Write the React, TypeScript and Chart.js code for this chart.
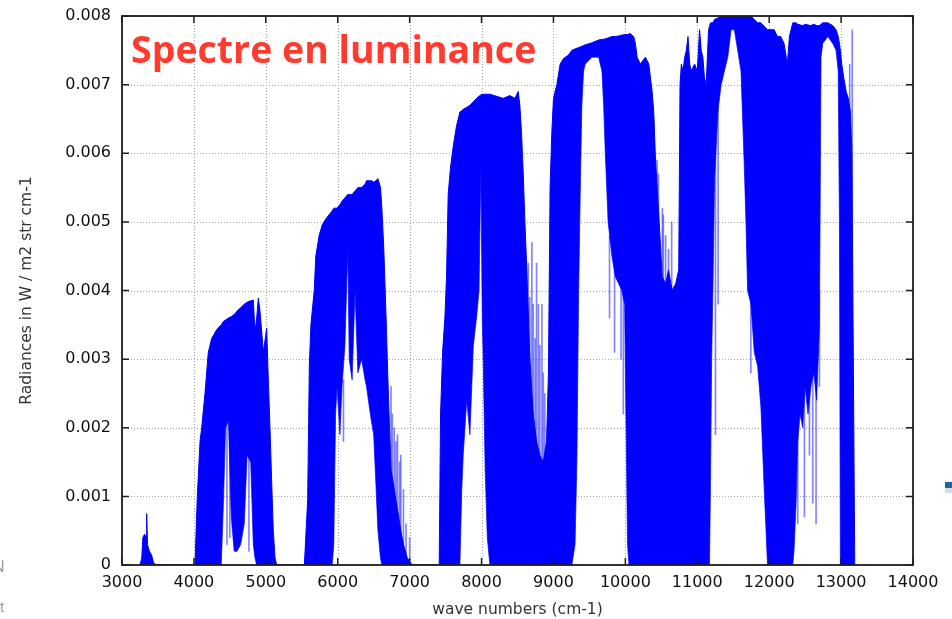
import React, { useEffect, useRef } from "react";
import { Chart, registerables } from "chart.js";

Chart.register(...registerables);

// ---- axis settings ----
const xMin = 3000;
const xMax = 14000;
const xStep = 1000;
const yMin = 0;
const yMax = 0.008;
const yStep = 0.001;

const chartTitle = "Spectre en luminance";
const xTitle = "wave numbers (cm-1)";
const yTitle = "Radiances in W / m2 str cm-1";

// ---- spectrum envelope: [wavenumber, upper, lower] ----
const band0 = [
  [3250, 0, 0], [3275, 0.0001, 0], [3290, 0.0004, 0], [3315, 0.00045, 0], [3335, 0.0004, 0],
  [3343, 0.00075, 0], [3355, 0.0003, 0], [3380, 0.0002, 0], [3410, 0.00015, 0], [3440, 0.00003, 0],
  [3480, 0, 0],
];

const bandA = [
  [4000, 0, 0], [4015, 0, 0], [4047, 0.001, 0], [4085, 0.0018, 0], [4108, 0.002, 0],
  [4154, 0.0025, 0], [4200, 0.0031, 0], [4247, 0.0033, 0], [4317, 0.00343, 0], [4380, 0.0035, 0],
  [4410, 0.00355, 0.0009], [4440, 0.00357, 0.002], [4480, 0.0036, 0.0021], [4520, 0.00362, 0.0007],
  [4560, 0.00365, 0.0002], [4600, 0.0037, 0.0002], [4650, 0.00375, 0.0003], [4700, 0.0038, 0.0006],
  [4740, 0.00383, 0.0016], [4790, 0.00385, 0.0015], [4826, 0.00386, 0.0003], [4850, 0.0034, 0.0001],
  [4873, 0.0036, 0], [4896, 0.00389, 0], [4919, 0.0037, 0], [4966, 0.0031, 0], [5012, 0.00345, 0],
  [5035, 0.0027, 0], [5058, 0.002, 0], [5082, 0.0012, 0], [5104, 0.0005, 0], [5128, 0.0001, 0],
  [5151, 0, 0],
];

const bandB = [
  [5500, 0, 0], [5536, 0, 0], [5582, 0.00095, 0], [5605, 0.0029, 0], [5627, 0.0035, 0],
  [5673, 0.004, 0], [5695, 0.0045, 0], [5741, 0.0048, 0], [5786, 0.00496, 0], [5832, 0.00504, 0],
  [5877, 0.0051, 0], [5923, 0.00516, 0], [5945, 0.0052, 0.0003], [5970, 0.0052, 0.0022],
  [5991, 0.0052, 0.0026], [6030, 0.00525, 0.0019], [6059, 0.0053, 0.0026], [6100, 0.00535, 0.0032],
  [6140, 0.0054, 0.0046], [6160, 0.0054, 0.003], [6200, 0.0054, 0.0027], [6241, 0.00545, 0.004],
  [6280, 0.0055, 0.0028], [6332, 0.0055, 0.003], [6380, 0.00555, 0.0027], [6400, 0.0056, 0.0026],
  [6440, 0.0056, 0.0023], [6468, 0.0056, 0.0021], [6500, 0.00558, 0.0019], [6530, 0.0056, 0.0012],
  [6559, 0.00563, 0.0005], [6595, 0.0055, 0.0001], [6614, 0.0052, 0], [6641, 0.0046, 0],
  [6673, 0.0036, 0], [6695, 0.0028, 0], [6720, 0.002, 0], [6741, 0.0014, 0], [6786, 0.0011, 0],
  [6832, 0.0008, 0], [6877, 0.0005, 0], [6914, 0.0003, 0], [6968, 0.0001, 0], [7036, 0, 0],
];

const bandC = [
  [7380, 0, 0], [7411, 0, 0], [7430, 0.0022, 0], [7458, 0.0031, 0], [7490, 0.0036, 0],
  [7513, 0.0042, 0], [7536, 0.0054, 0], [7569, 0.0058, 0], [7606, 0.0061, 0], [7652, 0.0064, 0],
  [7699, 0.0066, 0], [7725, 0.00662, 0.0011], [7745, 0.00664, 0.0016], [7794, 0.00667, 0.0024],
  [7838, 0.0067, 0.0019], [7886, 0.00675, 0.0032], [7930, 0.0068, 0.0036], [7965, 0.00683, 0.004],
  [7990, 0.00685, 0.0058], [8010, 0.00686, 0.0036], [8023, 0.00686, 0.003], [8050, 0.00686, 0.0014],
  [8080, 0.00686, 0.0004], [8116, 0.00686, 0], [8209, 0.00683, 0], [8301, 0.0068, 0],
  [8394, 0.00684, 0], [8464, 0.0068, 0], [8510, 0.0069, 0], [8533, 0.0067, 0], [8556, 0.0063, 0],
  [8580, 0.0057, 0], [8603, 0.005, 0], [8626, 0.0044, 0], [8672, 0.003, 0], [8719, 0.0022, 0],
  [8765, 0.0018, 0], [8811, 0.0016, 0], [8858, 0.0015, 0], [8904, 0.0018, 0],
];

const bandD = [
  [8930, 0.0028, 0], [8953, 0.0055, 0], [8977, 0.0063, 0], [9000, 0.0068, 0], [9047, 0.007, 0],
  [9093, 0.0073, 0], [9140, 0.00738, 0], [9209, 0.00743, 0], [9256, 0.0075, 0],
  [9300, 0.00752, 0.0003], [9326, 0.00753, 0.0015], [9349, 0.00754, 0.0039], [9372, 0.00755, 0.0054],
  [9395, 0.00756, 0.0067], [9419, 0.00757, 0.0072], [9442, 0.00758, 0.0073], [9535, 0.00761, 0.0074],
  [9628, 0.00765, 0.0074], [9674, 0.00766, 0.0072], [9698, 0.00766, 0.0067], [9721, 0.00767, 0.006],
  [9760, 0.00768, 0.005], [9814, 0.0077, 0.0045], [9860, 0.0077, 0.0042], [9907, 0.00771, 0.0041],
  [9950, 0.00772, 0.004], [9990, 0.00773, 0.0038], [10010, 0.00773, 0.002], [10030, 0.00773, 0.0003],
  [10050, 0.00774, 0], [10070, 0.00774, 0], [10116, 0.0077, 0], [10140, 0.0076, 0],
  [10163, 0.0074, 0], [10209, 0.0073, 0], [10279, 0.0074, 0], [10326, 0.0073, 0], [10372, 0.0069, 0],
  [10395, 0.0066, 0], [10419, 0.0059, 0], [10465, 0.0051, 0], [10512, 0.0042, 0], [10560, 0.0041, 0],
  [10600, 0.0043, 0], [10650, 0.004, 0], [10700, 0.0041, 0], [10742, 0.0043, 0],
];

const bandEF = [
  [10760, 0.007, 0], [10779, 0.0073, 0], [10802, 0.0072, 0], [10825, 0.0074, 0], [10848, 0.0075, 0],
  [10871, 0.0077, 0], [10895, 0.0073, 0], [10917, 0.0072, 0], [10963, 0.0073, 0], [11000, 0.0072, 0],
  [11032, 0.0078, 0], [11055, 0.0075, 0], [11078, 0.0074, 0], [11100, 0.0071, 0], [11124, 0.007, 0],
  [11157, 0.0078, 0], [11170, 0.00785, 0], [11184, 0.0079, 0.0012], [11200, 0.0079, 0.003],
  [11217, 0.0079, 0.004], [11240, 0.00795, 0.0056], [11286, 0.00797, 0.0066], [11332, 0.008, 0.007],
  [11378, 0.008, 0.0072], [11424, 0.008, 0.0074], [11470, 0.008, 0.0078], [11516, 0.008, 0.0078],
  [11562, 0.008, 0.0075], [11608, 0.00801, 0.0072], [11631, 0.008, 0.0065], [11654, 0.008, 0.0058],
  [11677, 0.008, 0.005], [11700, 0.008, 0.004], [11746, 0.008, 0.0038], [11793, 0.00795, 0.0031],
  [11839, 0.0079, 0.0029], [11885, 0.0079, 0.0023], [11931, 0.00785, 0.0011], [11977, 0.0078, 0],
  [12023, 0.0078, 0], [12069, 0.0078, 0], [12115, 0.0077, 0], [12161, 0.0077, 0], [12207, 0.0076, 0],
  [12253, 0.0073, 0],
];

const bandG = [
  [12281, 0.0077, 0], [12328, 0.0079, 0], [12345, 0.0079, 0.0002], [12374, 0.0079, 0.0009],
  [12397, 0.00788, 0.0018], [12430, 0.00787, 0.0022], [12467, 0.00786, 0.002], [12500, 0.00788, 0.0026],
  [12540, 0.00787, 0.0022], [12580, 0.00786, 0.0026], [12620, 0.00788, 0.0028], [12660, 0.00786, 0.0024],
  [12699, 0.00786, 0.0035], [12721, 0.00788, 0.0074], [12745, 0.0079, 0.0076], [12815, 0.0079, 0.0077],
  [12884, 0.00786, 0.0076], [12930, 0.0078, 0.0075], [12960, 0.0077, 0.0072], [12977, 0.0076, 0.005],
  [12990, 0.0075, 0], [13009, 0.0073, 0], [13037, 0.0071, 0], [13070, 0.0069, 0], [13100, 0.0068, 0],
  [13130, 0.0066, 0], [13150, 0.006, 0], [13170, 0.003, 0], [13190, 0, 0],
];

// isolated thin lines: [wavenumber, low, high]
const spikes = [
  [4460, 0.0003, 0.0022], [4500, 0.0004, 0.0021], [4765, 0.0002, 0.0017],
  [6080, 0.0018, 0.0027], [6741, 0, 0.0026], [6760, 0, 0.0022], [6786, 0, 0.002], [6810, 0, 0.0018],
  [6832, 0, 0.0019], [6860, 0, 0.0015], [6877, 0, 0.0016], [6914, 0, 0.0011], [6950, 0, 0.0006],
  [7000, 0, 0.0004],
  [8650, 0, 0.0044], [8672, 0, 0.0039], [8700, 0, 0.0047], [8719, 0, 0.0038], [8745, 0, 0.0033],
  [8765, 0, 0.0044], [8790, 0, 0.0038], [8811, 0, 0.0032], [8840, 0, 0.0038], [8858, 0, 0.0028],
  [8880, 0, 0.0025],
  [9780, 0.0036, 0.0048], [9850, 0.0031, 0.0044], [9940, 0.003, 0.0041], [9972, 0.0022, 0.004],
  [10390, 0, 0.0065], [10440, 0, 0.0059], [10460, 0, 0.0057], [10515, 0, 0.0052], [10528, 0, 0.0051],
  [10560, 0, 0.0048], [10600, 0, 0.0046], [10644, 0, 0.005],
  [11253, 0.0019, 0.0062], [11290, 0.0038, 0.0068], [11745, 0.0028, 0.004],
  [12397, 0.0006, 0.003], [12490, 0.0007, 0.003], [12560, 0.0016, 0.0034], [12606, 0.0009, 0.0036],
  [12652, 0.0006, 0.003], [12699, 0.0026, 0.004],
  [13120, 0, 0.0073], [13155, 0, 0.0078],
];

const allBands = [band0, bandA, bandB, bandC, bandD, bandEF, bandG];

const BLUE = "#0000ff";

const gnuplotFrame = {
  id: "gnuplotFrame",
  beforeDatasetsDraw(chart: any) {
    const { ctx, chartArea: a, scales } = chart;
    const x = scales.x;
    const y = scales.y;
    ctx.save();
    ctx.strokeStyle = "#a8a8a8";
    ctx.lineWidth = 1;
    ctx.setLineDash([1, 2]);
    x.ticks.forEach((t: any) => {
      const px = Math.round(x.getPixelForValue(t.value)) + 0.5;
      ctx.beginPath();
      ctx.moveTo(px, a.top);
      ctx.lineTo(px, a.bottom);
      ctx.stroke();
    });
    y.ticks.forEach((t: any) => {
      const py = Math.round(y.getPixelForValue(t.value)) + 0.5;
      ctx.beginPath();
      ctx.moveTo(a.left, py);
      ctx.lineTo(a.right, py);
      ctx.stroke();
    });
    ctx.restore();
  },
  afterDatasetsDraw(chart: any) {
    const { ctx, chartArea: a, scales } = chart;
    const x = scales.x;
    const y = scales.y;
    ctx.save();
    ctx.setLineDash([]);
    ctx.strokeStyle = "#1e1e1e";
    ctx.lineWidth = 1.5;
    const tl = 7;
    x.ticks.forEach((t: any) => {
      const px = x.getPixelForValue(t.value);
      ctx.beginPath();
      ctx.moveTo(px, a.bottom);
      ctx.lineTo(px, a.bottom - tl);
      ctx.moveTo(px, a.top);
      ctx.lineTo(px, a.top + tl);
      ctx.stroke();
    });
    y.ticks.forEach((t: any) => {
      const py = y.getPixelForValue(t.value);
      ctx.beginPath();
      ctx.moveTo(a.left, py);
      ctx.lineTo(a.left + tl, py);
      ctx.moveTo(a.right, py);
      ctx.lineTo(a.right - tl, py);
      ctx.stroke();
    });
    ctx.lineWidth = 1.8;
    ctx.strokeRect(a.left, a.top, a.right - a.left, a.bottom - a.top);
    // title inside the plot
    ctx.fillStyle = "#ff3b30";
    ctx.font = "bold 37.5px 'Open Sans'";
    ctx.textAlign = "left";
    ctx.textBaseline = "alphabetic";
    ctx.fillText(chartTitle, a.left + 9, a.top + 47);
    ctx.restore();
  },
};

export default function App() {
  const ref = useRef<HTMLCanvasElement | null>(null);

  useEffect(() => {
    if (!ref.current) return;
    const rows = allBands.flat();
    const upper = rows.map((r) => ({ x: r[0], y: r[1] }));
    const lower = rows.map((r) => ({ x: r[0], y: r[2] }));
    const lines = spikes.map((s) => ({ x: s[0], y: [s[1], s[2]] }));

    const chart = new Chart(ref.current, {
      type: "line",
      data: {
        datasets: [
          {
            label: "upper",
            data: upper,
            borderColor: BLUE,
            backgroundColor: BLUE,
            borderWidth: 1,
            pointRadius: 0,
            tension: 0,
            fill: "+1",
          } as any,
          {
            label: "lower",
            data: lower,
            borderColor: "rgba(0,0,255,0.7)",
            borderWidth: 1,
            pointRadius: 0,
            tension: 0,
            fill: false,
          } as any,
          {
            type: "bar",
            label: "lines",
            data: lines,
            backgroundColor: "rgba(30,30,255,0.55)",
            barThickness: 1,
            grouped: false,
          } as any,
        ],
      },
      options: {
        animation: false,
        responsive: false,
        events: [],
        layout: { padding: { left: 0, right: 39, top: 16, bottom: 0 } },
        plugins: {
          legend: { display: false },
          tooltip: { enabled: false },
          title: { display: false },
        },
        scales: {
          x: {
            type: "linear",
            min: xMin,
            max: xMax,
            offset: false,
            afterFit: (s: any) => {
              s.height = 54;
            },
            grid: { display: false, drawTicks: false, offset: false },
            border: { display: false },
            ticks: {
              stepSize: xStep,
              autoSkip: false,
              maxRotation: 0,
              padding: 8,
              color: "#111",
              font: { family: "'DejaVu Sans'", size: 16 },
              callback: (v: any) => String(v),
            },
            title: {
              display: true,
              text: xTitle,
              color: "#333",
              font: { family: "'DejaVu Sans'", size: 15.5 },
              padding: { top: 0, bottom: 0 },
            },
          },
          y: {
            type: "linear",
            min: yMin,
            max: yMax,
            afterFit: (s: any) => {
              s.width = 122;
              s.paddingTop = 0;
              s.paddingBottom = 0;
            },
            grid: { display: false, drawTicks: false },
            border: { display: false },
            ticks: {
              stepSize: yStep,
              autoSkip: false,
              padding: 11,
              color: "#111",
              font: { family: "'DejaVu Sans'", size: 16 },
              callback: (v: any) => (Number(v) === 0 ? "0" : Number(v).toFixed(3)),
            },
            title: {
              display: true,
              text: yTitle,
              color: "#333",
              font: { family: "'DejaVu Sans'", size: 15.5 },
              padding: { top: 18, bottom: 0 },
            },
          },
        },
      },
      plugins: [gnuplotFrame],
    } as any);
    return () => chart.destroy();
  }, []);

  return (
    <div
      style={{
        position: "absolute",
        left: 0,
        top: 0,
        width: 952,
        height: 619,
        background: "#fff",
        overflow: "hidden",
      }}
    >
      <canvas ref={ref} width={952} height={619} style={{ display: "block" }} />
      <div
        style={{
          position: "absolute",
          left: -7,
          top: 558,
          font: "16px 'Liberation Sans'",
          color: "#9a9a9a",
        }}
      >
        N
      </div>
      <div
        style={{
          position: "absolute",
          left: 0,
          top: 598,
          font: "15px 'Liberation Sans'",
          color: "#9a9a9a",
        }}
      >
        t
      </div>
      <div
        style={{ position: "absolute", left: 945, top: 482, width: 7, height: 6, background: "#1f63a8" }}
      />
      <div
        style={{ position: "absolute", left: 945, top: 488, width: 7, height: 5, background: "#dcdcdc" }}
      />
    </div>
  );
}
